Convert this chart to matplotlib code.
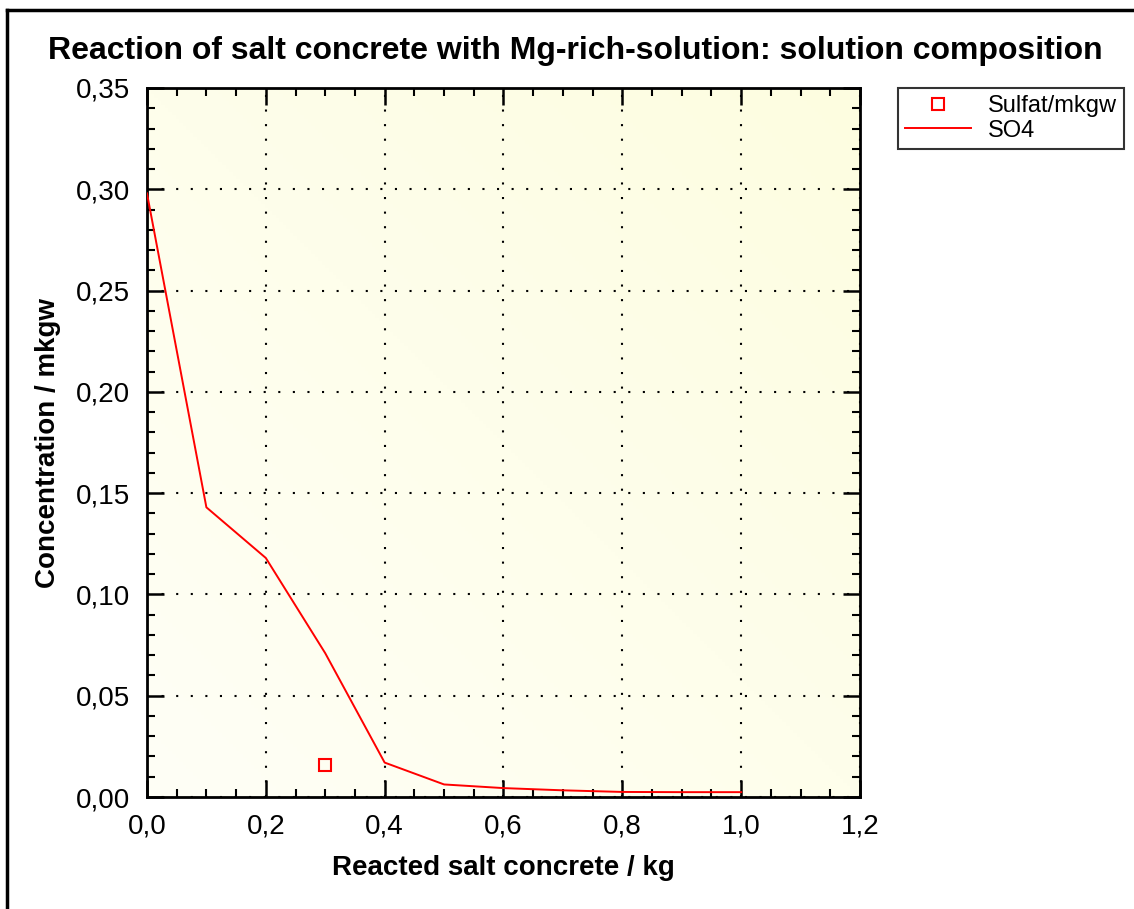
import matplotlib
matplotlib.use("Agg")
import matplotlib.pyplot as plt
import numpy as np
from matplotlib.lines import Line2D
from matplotlib.ticker import MultipleLocator, FuncFormatter
from matplotlib.colors import LinearSegmentedColormap

plt.rcParams['font.family'] = ['Liberation Sans', 'DejaVu Sans']

# calculated SO4 concentration vs reacted salt concrete
reacted_kg = [0.0, 0.1, 0.2, 0.3, 0.4, 0.5, 0.6, 0.7, 0.8, 0.9, 1.0]
so4_mkgw = [0.298, 0.143, 0.118, 0.071, 0.017, 0.0062, 0.0044, 0.0033, 0.0025, 0.0024, 0.0024]

# measured sulfate
sulfat_x = [0.3]
sulfat_y = [0.016]

fig = plt.figure(figsize=(11.34, 9.09), dpi=100)
ax = fig.add_axes([0.1296, 0.1232, 0.6288, 0.78])

# pale yellow background, lighter towards top left
grad = np.add.outer(np.linspace(0, 1, 200), np.linspace(0, 1, 200)) / 2
cmap = LinearSegmentedColormap.from_list('bg', ['#fffff6', '#fdfde0'])
ax.imshow(grad, cmap=cmap, extent=[0, 1.2, 0.35, 0], aspect='auto', zorder=0,
          origin='upper')

ax.plot(reacted_kg, so4_mkgw, color='red', lw=1.4, label='SO4', zorder=3)
ax.plot(sulfat_x, sulfat_y, ls='none', marker='s', ms=9, mfc='none', mec='red',
        mew=1.5, label='Sulfat/mkgw', zorder=3)

ax.set_xlim(0, 1.2)
ax.set_ylim(0, 0.35)
ax.xaxis.set_major_locator(MultipleLocator(0.2))
ax.xaxis.set_minor_locator(MultipleLocator(0.05))
ax.yaxis.set_major_locator(MultipleLocator(0.05))
ax.yaxis.set_minor_locator(MultipleLocator(0.01))
ax.xaxis.set_major_formatter(FuncFormatter(lambda v, p: f'{v:.1f}'.replace('.', ',')))
ax.yaxis.set_major_formatter(FuncFormatter(lambda v, p: f'{v:.2f}'.replace('.', ',')))
ax.tick_params(which='both', direction='in', top=True, right=True, color='black')
ax.tick_params(which='major', length=12, width=1.8, labelsize=20, pad=12)
ax.tick_params(which='minor', length=6, width=1.5)
for s in ax.spines.values():
    s.set_linewidth(2)
ax.grid(True, which='major', color='black', ls=(0, (1, 6)), lw=1.5)

ax.set_xlabel('Reacted salt concrete / kg', fontsize=20, fontweight='bold', labelpad=11)
ax.set_ylabel('Concentration / mkgw', fontsize=20, fontweight='bold', labelpad=11)
fig.text(0.507, 0.944, 'Reaction of salt concrete with Mg-rich-solution: solution composition',
         ha='center', va='center', fontsize=23, fontweight='bold')

handles, labels = ax.get_legend_handles_labels()
leg = fig.legend(handles[::-1], labels[::-1], loc='upper left',
                 bbox_to_anchor=(0.792, 0.903), fontsize=17, frameon=True,
                 fancybox=False, edgecolor='black', borderaxespad=0,
                 handlelength=2.8, borderpad=0.3, labelspacing=0.1,
                 handletextpad=0.7)
leg.get_frame().set_linewidth(1.5)

# outer frame (left and top edges)
fig.add_artist(Line2D([0.0062, 0.0062], [0, 0.989], color='black', lw=2.5))
fig.add_artist(Line2D([0.0062, 1], [0.989, 0.989], color='black', lw=2.5))

fig.savefig('out.png', dpi=100)
